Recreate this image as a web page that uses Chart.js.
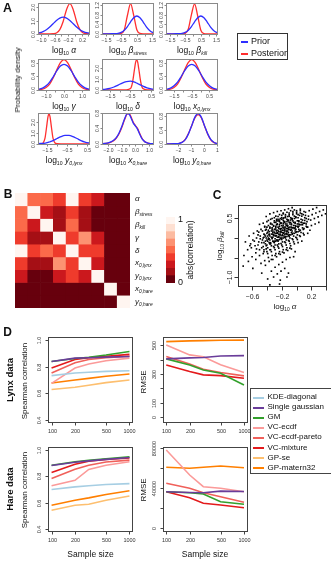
<!DOCTYPE html>
<html>
<head>
<meta charset="utf-8">
<script src="https://cdn.jsdelivr.net/npm/chart.js@4.4.1/dist/chart.umd.min.js"></script>
<style>
  html, body { margin: 0; padding: 0; background: #fff; }
  #page { position: relative; width: 331px; height: 561px; overflow: hidden;
          font-family: 'Liberation Sans', Arial, sans-serif; color: #111; }
  #page canvas { position: absolute; left: 0; top: 0; }
  .t { position: absolute; white-space: nowrap; line-height: 1; transform: translate(-50%, -50%); }
  .t sub { font-size: 0.6em; line-height: 0; vertical-align: -0.35em; }
</style>
</head>
<body>
<div id="page"></div>
<script>
// ---------- A: prior vs posterior densities ----------
var xAlpha = [-1.15,-1.05,-0.95,-0.85,-0.75,-0.65,-0.55,-0.45,-0.35,-0.25,-0.15,-0.05,0.05,0.15,0.25,0.35,0.45,0.55];
var priorAlpha = [0.04,0.08,0.17,0.31,0.51,0.76,1.00,1.18,1.25,1.18,1.00,0.76,0.51,0.31,0.17,0.08,0.04,0.015];
var postAlpha = [0,0,0,0,0,0.01,0.06,0.31,0.93,1.82,2.27,1.82,0.93,0.31,0.06,0.01,0,0];

var xBeta = [-1.9,-1.7,-1.5,-1.3,-1.1,-0.9,-0.7,-0.5,-0.3,-0.1,0.1,0.3,0.5,0.7,0.9,1.1,1.3,1.5,1.7];
var priorBstress = [0,0,0,0,0.001,0.006,0.02,0.06,0.15,0.30,0.50,0.67,0.74,0.67,0.50,0.30,0.15,0.06,0.02];
var postBstress = [0,0,0,0,0,0,0,0.014,0.17,0.77,1.25,0.77,0.17,0.014,0,0,0,0,0];
var priorBkill = [0,0,0,0,0.001,0.006,0.02,0.06,0.15,0.30,0.50,0.67,0.74,0.67,0.50,0.30,0.15,0.06,0.02];
var postBkill = [0,0,0,0,0,0,0,0.02,0.2,0.8,1.24,0.74,0.15,0.01,0,0,0,0,0];

var xGamma = [-1.6,-1.4,-1.2,-1.0,-0.8,-0.6,-0.4,-0.2,0,0.2,0.4,0.6,0.8,1.0,1.2,1.4];
var priorGamma = [0.007,0.02,0.05,0.12,0.23,0.39,0.57,0.71,0.76,0.71,0.57,0.39,0.23,0.12,0.05,0.02];
var postGamma = [0.001,0.006,0.02,0.07,0.17,0.36,0.60,0.81,0.90,0.81,0.60,0.36,0.17,0.07,0.02,0.006];

var xDelta = [-1.9,-1.7,-1.5,-1.3,-1.1,-0.9,-0.7,-0.5,-0.4,-0.3,-0.25,-0.2,-0.15,-0.1,0.0,0.1,0.3,0.5,0.7];
var priorDelta = [0.02,0.06,0.13,0.26,0.44,0.63,0.76,0.80,0.76,0.71,0.67,0.63,0.58,0.53,0.44,0.34,0.19,0.09,0.035];
var postDelta = [0,0,0,0,0,0,0,0.12,0.70,1.98,2.57,2.8,2.57,1.98,0.70,0.12,0,0,0];

var xX0lynx = [-2.1,-1.9,-1.7,-1.5,-1.3,-1.1,-0.9,-0.7,-0.5,-0.3,-0.1,0.1,0.3,0.5,0.7,0.9,1.1];
var priorX0lynx = [0.007,0.02,0.05,0.12,0.23,0.39,0.57,0.71,0.76,0.71,0.57,0.39,0.23,0.12,0.05,0.02,0.007];
var postX0lynx = [0.001,0.006,0.02,0.07,0.17,0.36,0.60,0.81,0.90,0.81,0.60,0.36,0.17,0.07,0.02,0.006,0.001];

var xY0lynx = [-2.2,-2.0,-1.8,-1.7,-1.6,-1.5,-1.45,-1.4,-1.35,-1.3,-1.2,-1.1,-1.0,-0.8,-0.6,-0.4,-0.2,0.0,0.2,0.4,0.7];
var priorY0lynx = [0.002,0.01,0.03,0.045,0.07,0.11,0.13,0.16,0.19,0.22,0.30,0.39,0.49,0.67,0.78,0.78,0.67,0.49,0.30,0.16,0.045];
var postY0lynx = [0,0,0,0.07,0.53,1.85,2.53,2.8,2.53,1.85,0.53,0.07,0.004,0,0,0,0,0,0,0,0];

var xX0hare = [-2.5,-2.2,-2.0,-1.8,-1.6,-1.4,-1.2,-1.0,-0.8,-0.6,-0.45,-0.3,-0.15,0.0,0.15,0.3,0.5,0.7,0.9,1.1,1.4];
var priorX0hare = [0.005,0.012,0.025,0.05,0.09,0.16,0.28,0.45,0.64,0.78,0.76,0.65,0.53,0.46,0.38,0.26,0.12,0.05,0.02,0.006,0];
var postX0hare = [0,0.01,0.02,0.04,0.08,0.15,0.26,0.42,0.62,0.77,0.78,0.68,0.55,0.47,0.40,0.28,0.13,0.05,0.02,0.005,0];

var xY0hare = [-3.1,-2.7,-2.3,-2.0,-1.7,-1.45,-1.2,-0.95,-0.7,-0.45,-0.2,0.05,0.3,0.55,0.8,1.05,1.2];
var priorY0hare = [0,0,0.001,0.007,0.04,0.12,0.29,0.53,0.78,0.88,0.78,0.53,0.29,0.12,0.04,0.007,0.001];
var postY0hare = [0,0,0.001,0.008,0.045,0.13,0.30,0.53,0.76,0.85,0.76,0.52,0.28,0.11,0.035,0.006,0.001];

var paramNames = ['<i>α</i>', '<i>β<sub>stress</sub></i>', '<i>β<sub>kill</sub></i>', '<i>γ</i>', '<i>δ</i>',
  '<i>x<sub>0,lynx</sub></i>', '<i>y<sub>0,lynx</sub></i>', '<i>x<sub>0,hare</sub></i>', '<i>y<sub>0,hare</sub></i>'];

var aXTicks = [
  [-1.0,-0.8,-0.6,-0.4,-0.2,0,0.2,0.4],
  [-1.5,-1,-0.5,0,0.5,1,1.5],
  [-1.5,-1,-0.5,0,0.5,1,1.5],
  [-1,-0.5,0,0.5,1],
  [-1.5,-1,-0.5,0,0.5],
  [-1.5,-1,-0.5,0,0.5],
  [-1.5,-1,-0.5,0,0.5],
  [-2,-1.5,-1,-0.5,0,0.5,1],
  [-2,-1,0,1]
];
var aXTickText = [
  ['−1.0','','−0.6','','−0.2','','0.2',''],
  ['−1.5','','−0.5','','0.5','','1.5'],
  ['−1.5','','−0.5','','0.5','','1.5'],
  ['−1.0','','0.0','','1.0'],
  ['−1.5','','−0.5','','0.5'],
  ['−1.5','','−0.5','','0.5'],
  ['−1.5','','−0.5','','0.5'],
  ['−2.0','','−1.0','','0.0','','1.0'],
  ['−2','−1','0','1']
];
var aYTicks = [[0,1,2],[0,0.4,0.8,1.2],[0,0.4,0.8,1.2],[0,0.4,0.8],[0,1,2],[0,0.4,0.8],[0,1,2],[0,0.4,0.8],[0,0.4,0.8]];

// ---------- B: abs(correlation) between posterior parameters ----------
var absCorr = [
  [1, .5, .48, .35, .95, .4, .3, .05, .05],
  [.5, 1, .3, .2, .4, .2, .08, .05, .05],
  [.48, .3, 1, .2, .5, .2, .08, .05, .05],
  [.35, .2, .2, 1, .4, .65, .25, .05, .05],
  [.95, .4, .5, .4, 1, .4, .4, .05, .05],
  [.4, .2, .2, .65, .4, 1, .25, .05, .05],
  [.3, .08, .08, .25, .4, .25, 1, .05, .05],
  [.05, .05, .05, .05, .05, .05, .05, 1, .05],
  [.05, .05, .05, .05, .05, .05, .05, .05, 1]
];

// ---------- C: posterior sample, log10 alpha vs log10 beta_kill (hundredths, x,y pairs) ----------
var cloud = [
  -71,-45, -69,-10, -72,-72,
  -66,-30, -64,5, -65,-60, -63,-20,
  -61,-25, -59,-5, -60,-48, -58,12, -62,-15, -59,-78,
  -56,-20, -54,0, -55,-38, -53,18, -57,-8, -55,-55, -54,-28, -52,8,
  -51,-10, -49,5, -50,-30, -48,22, -52,-18, -50,-45, -49,-2, -47,-25, -51,15, -48,-65, -50,35,
  -46,-5, -44,10, -45,-22, -43,28, -47,-12, -45,-40, -44,2, -42,-15, -46,18, -43,-58, -45,38, -44,-30, -42,5, -47,-90,
  -41,0, -39,15, -40,-18, -38,32, -42,-8, -40,-35, -39,5, -37,-12, -41,22, -38,-50, -40,42, -39,-25, -37,10, -42,-70, -38,-3, -41,55, -39,-105, -36,25,
  -36,5, -34,18, -35,-12, -33,35, -37,-2, -35,-30, -34,10, -32,-8, -36,28, -33,-45, -35,48, -34,-20, -32,14, -37,-60, -33,0, -36,62, -34,-85, -31,30, -35,-15, -33,22, -36,-120,
  -31,8, -29,22, -30,-8, -28,40, -32,2, -30,-25, -29,12, -27,-5, -31,32, -28,-40, -30,52, -29,-18, -27,18, -32,-55, -28,5, -31,65, -29,-75, -26,35, -30,-12, -28,26, -31,-100, -27,48, -29,-2, -30,15,
  -26,12, -24,25, -25,-5, -23,42, -27,6, -25,-22, -24,16, -22,0, -26,36, -23,-35, -25,55, -24,-15, -22,22, -27,-48, -23,8, -26,68, -24,-68, -21,38, -25,-8, -23,30, -26,-92, -22,50, -24,4, -25,20, -23,-118, -27,44,
  -21,15, -19,28, -20,0, -18,45, -22,10, -20,-18, -19,20, -17,5, -21,38, -18,-30, -20,58, -19,-10, -17,25, -22,-42, -18,12, -21,70, -19,-62, -16,40, -20,-4, -18,33, -21,-85, -17,52, -19,8, -20,24, -22,-108, -18,62,
  -16,18, -14,32, -15,4, -13,48, -17,14, -15,-12, -14,24, -12,10, -16,42, -13,-25, -15,60, -14,-5, -12,30, -17,-38, -13,16, -16,72, -14,-55, -11,44, -15,0, -13,36, -16,-78, -12,55, -14,12, -15,28, -13,-100,
  -11,22, -9,36, -10,8, -8,52, -12,18, -10,-8, -9,28, -7,14, -11,46, -8,-20, -10,64, -9,0, -7,34, -12,-32, -8,20, -11,75, -9,-50, -6,48, -10,4, -8,40, -11,-90,
  -6,26, -4,40, -5,12, -3,56, -7,22, -5,-4, -4,32, -2,18, -6,50, -3,-15, -5,68, -4,5, -2,38, -7,-28, -3,24, -6,78, -4,-48, -1,52,
  -1,30, 1,44, 0,16, 2,60, -2,26, 0,0, 1,36, 3,22, -1,54, 2,-12, 0,70, 1,8, 3,42, -2,-35, 2,28,
  4,34, 6,48, 5,20, 7,62, 3,30, 5,4, 6,40, 8,26, 4,58, 7,-8, 5,74, 6,14,
  9,38, 11,52, 10,24, 12,66, 8,34, 10,8, 11,45, 13,30, 9,60,
  14,42, 16,56, 15,28, 17,70, 13,36, 15,12, 16,48,
  19,46, 21,60, 20,32, 22,74, 18,20,
  24,50, 26,64, 25,36, 27,78,
  29,54, 31,68, 30,40,
  34,58, 36,72,
  39,62,
  // dense core
  -44,-12, -43,8, -41,-20, -40,12, -45,0, -42,20, -44,-35, -40,-5, -43,30, -41,-28,
  -39,-8, -38,20, -36,-15, -37,8, -40,28, -36,-30, -38,0, -35,38, -39,-40, -37,16, -36,-5, -38,45,
  -34,2, -33,26, -31,-10, -32,18, -35,36, -31,-22, -33,-2, -30,44, -34,-35, -32,10, -31,6, -33,50, -34,-55, -30,22,
  -29,6, -28,30, -26,-6, -27,20, -30,40, -26,-18, -28,-8, -25,48, -29,-30, -27,12, -26,2, -28,56, -29,-45, -25,28, -27,34, -26,14,
  -24,10, -23,34, -21,-2, -22,24, -25,44, -21,-14, -23,-4, -20,52, -24,-26, -22,16, -21,6, -23,60, -24,-40, -20,32, -22,38, -21,18, -24,2, -23,46,
  -19,14, -18,38, -16,2, -17,28, -20,48, -16,-10, -18,0, -15,56, -19,-22, -17,20, -16,10, -18,64, -19,-36, -15,36, -17,42, -16,22, -19,6, -18,50,
  -14,18, -13,42, -11,6, -12,32, -15,52, -11,-6, -13,4, -10,60, -14,-18, -12,24, -11,14, -13,66, -14,-30, -10,40, -12,46, -11,26, -14,10,
  -9,22, -8,46, -6,10, -7,36, -10,56, -6,-2, -8,8, -5,64, -9,-14, -7,28, -6,18, -8,70, -9,-26, -5,44, -7,50,
  -4,26, -3,50, -1,14, -2,40, -5,60, -1,2, -3,12, 0,66, -4,-10, -2,32, -1,22, -3,72,
  1,30, 2,52, 4,18, 3,44, 0,62, 4,6, 2,16, 5,70, 1,-4, 3,36,
  6,34, 7,56, 9,22, 8,46, 5,64, 9,12, 7,40,
  11,38, 12,58, 14,28, 13,50, 10,68
];

// ---------- D: method comparison ----------
var sampleSizes = [100, 200, 300, 500, 1000];
var methods = ['KDE-diagonal', 'Single gaussian', 'GM', 'VC-ecdf', 'VC-ecdf-pareto', 'VC-mixture', 'GP-se', 'GP-matern32'];
var lynxSpearman = [
  [0.733, 0.753, 0.758, 0.765, 0.77],
  [0.84, 0.865, 0.868, 0.872, 0.877],
  [0.84, 0.862, 0.872, 0.888, 0.915],
  [0.675, 0.79, 0.82, 0.845, 0.865],
  [0.752, 0.83, 0.855, 0.868, 0.88],
  [0.79, 0.855, 0.868, 0.878, 0.893],
  [0.628, 0.645, 0.66, 0.68, 0.70],
  [0.678, 0.70, 0.712, 0.728, 0.745]
];
var lynxRmse = [
  null,
  [405, 412, 415, 425, 428],
  [405, 363, 328, 305, 224],
  [502, 433, 420, 365, 310],
  [421, 370, 333, 310, 287],
  [363, 317, 294, 289, 271],
  null,
  [525, 530, 532, 534, 535]
];
var hareSpearman = [
  [0.70, 0.72, 0.728, 0.738, 0.745],
  [0.883, 0.908, 0.918, 0.93, 0.944],
  [0.885, 0.911, 0.922, 0.935, 0.949],
  [0.728, 0.77, 0.853, 0.885, 0.911],
  [0.784, 0.855, 0.885, 0.91, 0.924],
  [0.83, 0.893, 0.916, 0.93, 0.94],
  [0.542, 0.58, 0.588, 0.618, 0.651],
  [0.58, 0.618, 0.636, 0.662, 0.69]
];
var hareRmse = [
  null,
  [36600, 35800, 35500, 37200, 36800],
  [36600, 35600, 34300, 26600, 24000],
  [78300, 53300, 41600, 40000, 36600],
  [45000, 40000, 35600, 31600, 26000],
  [36600, 30600, 25000, 23300, 20600],
  null,
  [61000, 60000, 61000, 62300, 60600]
];

// ---------- styles / layout ----------
var W = 331, H = 561;
var page = document.getElementById('page');
var FONT = "'Liberation Sans', Arial, sans-serif";
Chart.defaults.font.family = FONT;
var methodColors = ['#a6cee3', '#6a3d9a', '#33a02c', '#fb9a99', '#f0605a', '#e31a1c', '#fdbf6f', '#ff7f00'];
var reds = ['#fff5f0', '#fee0d2', '#fcbba1', '#fc9272', '#fb6a4a', '#ef3b2c', '#cb181d', '#a50f15', '#67000d'];
var PRIOR = '#2f2fff', POST = '#ff2f2f';

function addCanvas() {
  var c = document.createElement('canvas');
  c.width = W; c.height = H;
  c.style.width = W + 'px'; c.style.height = H + 'px';
  page.appendChild(c);
  return c;
}
function pad(b) { return {left: b[0], top: b[1], right: W - b[2], bottom: H - b[3]}; }
function pts(xs, ys) { return xs.map(function (x, i) { return {x: x, y: ys[i]}; }); }
function txt(html, x, y, css) {
  var d = document.createElement('div');
  d.className = 't';
  d.innerHTML = html;
  d.style.left = x + 'px';
  d.style.top = y + 'px';
  if (css) d.style.cssText += css;
  page.appendChild(d);
  return d;
}
var ROT = 'transform:translate(-50%,-50%) rotate(-90deg);';
var LEFT = 'transform:translate(0,-50%);';

// R-like frame: box, outward ticks, rotated y labels
var rFrame = {
  id: 'rframe',
  afterDraw: function (chart, args, o) {
    if (!o || !o.box) return;
    var ctx = chart.ctx, a = chart.chartArea, sx = chart.scales.x, sy = chart.scales.y;
    var l = Math.round(a.left) + 0.5, t = Math.round(a.top) + 0.5;
    var r = Math.round(a.right) - 0.5, b = Math.round(a.bottom) - 0.5;
    ctx.save();
    ctx.lineWidth = 1;
    ctx.strokeStyle = o.box;
    ctx.strokeRect(l, t, r - l, b - t);
    ctx.fillStyle = o.text;
    ctx.font = o.font;
    ctx.textAlign = 'center';
    ctx.textBaseline = 'middle';
    ctx.beginPath();
    (o.xt || []).forEach(function (v, i) {
      var px = Math.round(sx.getPixelForValue(v)) + 0.5;
      ctx.moveTo(px, b); ctx.lineTo(px, b + o.tick);
      if (o.xl[i]) ctx.fillText(o.xl[i], px, b + o.xoff);
    });
    (o.yt || []).forEach(function (v, i) {
      var py = Math.round(sy.getPixelForValue(v)) + 0.5;
      ctx.moveTo(l - o.tick, py); ctx.lineTo(l, py);
      if (o.yl[i]) {
        ctx.save();
        ctx.translate(l - o.yoff, py);
        ctx.rotate(-Math.PI / 2);
        ctx.fillText(o.yl[i], 0, 0);
        ctx.restore();
      }
    });
    ctx.stroke();
    ctx.restore();
  }
};

function makeChart(type, box, datasets, xScale, yScale, frame, labels) {
  return new Chart(addCanvas(), {
    type: type,
    data: {labels: labels, datasets: datasets},
    options: {
      responsive: false, animation: false, events: [], devicePixelRatio: 1,
      layout: {padding: pad(box)},
      plugins: {legend: {display: false}, tooltip: {enabled: false}, rframe: frame || {}},
      scales: {x: Object.assign({display: false}, xScale), y: Object.assign({display: false}, yScale)}
    },
    plugins: [rFrame]
  });
}

// ----- panel A -----
var aSeries = [
  [xAlpha, priorAlpha, postAlpha], [xBeta, priorBstress, postBstress], [xBeta, priorBkill, postBkill],
  [xGamma, priorGamma, postGamma], [xDelta, priorDelta, postDelta], [xX0lynx, priorX0lynx, postX0lynx],
  [xY0lynx, priorY0lynx, postY0lynx], [xX0hare, priorX0hare, postX0hare], [xY0hare, priorY0hare, postY0hare]
];
var aXRange = [[-1.1,0.45],[-1.73,1.6],[-1.73,1.6],[-1.45,1.45],[-1.88,0.64],[-1.95,0.98],[-1.95,0.65],[-2.45,1.36],[-2.95,1.1]];
var aYRange = [[-0.09,2.36],[-0.05,1.3],[-0.05,1.3],[-0.036,0.936],[-0.11,2.91],[-0.036,0.936],[-0.11,2.91],[-0.031,0.81],[-0.035,0.915]];
var aCols = [38, 102, 166], aRows = [2.5, 58.5, 112.5];
aSeries.forEach(function (s, i) {
  var L = aCols[i % 3], T = aRows[Math.floor(i / 3)];
  var box = [L, T, L + 52, T + 32.5];
  var line = function (ys, col) {
    return {data: pts(s[0], ys), borderColor: col, borderWidth: 1.3, pointRadius: 0,
            cubicInterpolationMode: 'monotone', clip: 0};
  };
  makeChart('line', box, [line(s[1], PRIOR), line(s[2], POST)],
    {type: 'linear', min: aXRange[i][0], max: aXRange[i][1]},
    {type: 'linear', min: aYRange[i][0], max: aYRange[i][1]},
    {box: '#8a8a8a', text: '#444', font: '5px ' + FONT, tick: 2, xoff: 6.5, yoff: 5,
     xt: aXTicks[i], xl: aXTickText[i], yt: aYTicks[i], yl: aYTicks[i].map(function (v) { return v.toFixed(1); })});
  txt('log<sub>10</sub> ' + paramNames[i], L + 26, T + 47.5, 'font-size:8.5px;');
});
txt('Probability density', 18, 80, ROT + 'font-size:8px;');
var aLeg = txt('', 237, 33, 'transform:none;width:49px;height:25px;border:1px solid #333;');
aLeg.innerHTML = '<div style="position:absolute;left:3px;top:6.5px;width:7px;height:2px;background:' + PRIOR + '"></div>' +
  '<div style="position:absolute;left:13px;top:3px;font-size:9px;">Prior</div>' +
  '<div style="position:absolute;left:3px;top:18.5px;width:7px;height:2px;background:' + POST + '"></div>' +
  '<div style="position:absolute;left:13px;top:15px;font-size:9px;">Posterior</div>';

// ----- panel B -----
function corrColor(v) { return reds[8 - Math.min(8, Math.floor(v * 9))]; }
makeChart('bar', [15, 193, 130, 308],
  absCorr.map(function (row) {
    return {data: row.map(function () { return 1; }), backgroundColor: row.map(corrColor),
            borderWidth: 0, barPercentage: 1, categoryPercentage: 1};
  }),
  {stacked: true}, {stacked: true, reverse: true, min: 0, max: 9}, null, paramNames);
paramNames.forEach(function (n, i) { txt(n, 135, 199.4 + 12.78 * i, LEFT + 'font-size:8px;'); });
makeChart('bar', [166, 217, 175, 283],
  reds.slice().reverse().map(function (c) {
    return {data: [1], backgroundColor: c, borderWidth: 0, barPercentage: 1, categoryPercentage: 1};
  }),
  {stacked: true}, {stacked: true, min: 0, max: 9}, null, ['']);
txt('1', 178, 219, LEFT + 'font-size:9px;');
txt('0', 178, 282, LEFT + 'font-size:9px;');
txt('abs(correlation)', 190, 250, ROT + 'font-size:8.5px;');

// ----- panel C -----
var cloudPts = [];
for (var k = 0; k < cloud.length; k += 2) cloudPts.push({x: cloud[k] / 100, y: cloud[k + 1] / 100});
makeChart('scatter', [238, 205, 328, 287],
  [{data: cloudPts, pointStyle: 'rect', pointRadius: 1.15, backgroundColor: '#000', borderWidth: 0, clip: 0}],
  {type: 'linear', min: -0.79, max: 0.41}, {type: 'linear', min: -1.256, max: 0.846},
  {box: '#333', text: '#222', font: '7px ' + FONT, tick: 4, xoff: 10.5, yoff: 8,
   xt: [-0.6,-0.4,-0.2,0,0.2,0.4], xl: ['−0.6','','−0.2','','0.2',''],
   yt: [-1,-0.5,0,0.5], yl: ['−1.0','','','0.5']});
txt('log<sub>10</sub> <i>α</i>', 285, 307, 'font-size:8px;');
txt('log<sub>10</sub> <i>β<sub>kill</sub></i>', 220, 246, ROT + 'font-size:8px;');

// ----- panel D -----
function dSets(series) {
  var out = [];
  series.forEach(function (vals, i) {
    if (!vals) return;
    out.push({data: pts(sampleSizes, vals), borderColor: methodColors[i], borderWidth: 1.6,
              pointRadius: 0, tension: 0, clip: 0});
  });
  return out;
}
var dX = {type: 'logarithmic', min: 90, max: 1110};
var dXt = [100, 200, 500, 1000], dXl = ['100', '200', '500', '1000'];
var spFrame = {box: '#444', text: '#333', font: '5.5px ' + FONT, tick: 3, xoff: 8.5, yoff: 9,
  xt: dXt, xl: dXl, yt: [0.4,0.6,0.8,1.0], yl: ['0.4','0.6','0.8','1.0']};
makeChart('line', [48, 337, 133, 423], dSets(lynxSpearman), dX, {type: 'linear', min: 0.376, max: 1.024}, spFrame);
makeChart('line', [48, 447, 133, 532], dSets(hareSpearman), dX, {type: 'linear', min: 0.376, max: 1.024}, spFrame);
makeChart('line', [162.7, 337, 247.5, 423], dSets(lynxRmse), dX, {type: 'linear', min: -40, max: 557},
  {box: '#444', text: '#333', font: '5.5px ' + FONT, tick: 3, xoff: 8.5, yoff: 9,
   xt: dXt, xl: dXl, yt: [0,100,200,300,400,500], yl: ['0','100','','300','','500']});
makeChart('line', [162.7, 447, 247.5, 532], dSets(hareRmse), dX, {type: 'linear', min: -3700, max: 81300},
  {box: '#444', text: '#333', font: '5.5px ' + FONT, tick: 3, xoff: 8.5, yoff: 9,
   xt: dXt, xl: dXl, yt: [0,20000,40000,60000,80000], yl: ['0','','40000','','80000']});

txt('Lynx data', 10, 380, ROT + 'font-size:9.5px;font-weight:bold;');
txt('Hare data', 10, 489, ROT + 'font-size:9.5px;font-weight:bold;');
txt('Spearman correlation', 25, 381, ROT + 'font-size:8px;');
txt('Spearman correlation', 25, 490, ROT + 'font-size:8px;');
txt('RMSE', 144, 382, ROT + 'font-size:8px;');
txt('RMSE', 144, 490, ROT + 'font-size:8px;');
txt('Sample size', 90.5, 554, 'font-size:8.5px;');
txt('Sample size', 205, 554, 'font-size:8.5px;');

var dLeg = txt('', 249.5, 388, 'transform:none;width:90px;height:84px;border:1px solid #444;');
var legHtml = '';
methods.forEach(function (m, i) {
  var y = 8.5 + 10.1 * i;
  legHtml += '<div style="position:absolute;left:2.5px;top:' + (y - 1) + 'px;width:11px;height:2px;background:' + methodColors[i] + '"></div>' +
    '<div style="position:absolute;left:17px;top:' + (y - 4.5) + 'px;font-size:8px;line-height:1;white-space:nowrap;">' + m + '</div>';
});
dLeg.innerHTML = legHtml;

// panel letters
txt('A', 7.5, 8, 'font-size:12.5px;font-weight:bold;');
txt('B', 8, 194, 'font-size:12px;font-weight:bold;');
txt('C', 217, 195, 'font-size:12px;font-weight:bold;');
txt('D', 7.5, 332, 'font-size:12px;font-weight:bold;');
</script>
</body>
</html>
